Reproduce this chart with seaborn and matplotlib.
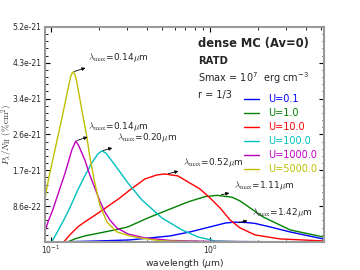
import numpy as np
import pandas as pd
import matplotlib
matplotlib.use("Agg")
import matplotlib.pyplot as plt
from matplotlib.ticker import AutoMinorLocator
import seaborn as sns

# curves: wavelength (um), P/NH in units of 1e-21 %cm^2
labels = ['U=0.1', 'U=1.0', 'U=10.0', 'U=100.0', 'U=1000.0', 'U=5000.0']
colors = ['b', 'g', 'r', 'c', 'm', 'y']

wl_u01 = [0.0986, 0.1522, 0.2033, 0.314, 0.4195, 0.5603, 0.7485, 1.0, 1.25, 1.42, 1.65, 1.919, 2.385, 3.185, 5.137]
p_u01 = [0.0, 0.012, 0.024, 0.048, 0.096, 0.144, 0.24, 0.361, 0.455, 0.475, 0.47, 0.445, 0.361, 0.24, 0.072]

wl_u1 = [0.1279, 0.1415, 0.1636, 0.2033, 0.2527, 0.305, 0.4075, 0.5442, 0.7272, 0.9304, 1.11, 1.375, 1.544, 2.154, 3.185, 5.137]
p_u1 = [0.0, 0.072, 0.144, 0.216, 0.289, 0.361, 0.577, 0.77, 0.962, 1.09, 1.12, 1.075, 0.986, 0.601, 0.289, 0.12]

wl_u10 = [0.1207, 0.1317, 0.1415, 0.1478, 0.1636, 0.2033, 0.235, 0.2716, 0.314, 0.3901, 0.4642, 0.52, 0.6293, 0.7272,
          0.8651, 1.0, 1.156, 1.336, 1.544, 1.919, 2.756, 5.137]
p_u10 = [0.0, 0.168, 0.289, 0.361, 0.481, 0.721, 0.89, 1.058, 1.25, 1.515, 1.611, 1.635, 1.587, 1.443,
         1.274, 1.058, 0.818, 0.529, 0.337, 0.168, 0.072, 0.024]

wl_u100 = [0.1015, 0.1091, 0.119, 0.1317, 0.1478, 0.1636, 0.1811, 0.1975, 0.2093, 0.2218, 0.2527, 0.305, 0.3736,
           0.499, 0.6668, 0.8406, 1.075, 1.544, 5.0]
p_u100 = [0.0, 0.216, 0.481, 0.818, 1.25, 1.587, 1.9, 2.116, 2.188, 2.14, 1.852, 1.419, 1.01,
          0.577, 0.289, 0.12, 0.024, 0.007, 0.0]

wl_u1000 = [0.0917, 0.0971, 0.1029, 0.1139, 0.1225, 0.1279, 0.1356, 0.1436, 0.15, 0.1636, 0.1759, 0.1891, 0.2033,
            0.2186, 0.235, 0.2601, 0.305, 0.3901, 0.5603, 1.0, 5.0]
p_u1000 = [0.24, 0.529, 0.77, 1.274, 1.635, 1.876, 2.212, 2.429, 2.309, 1.972, 1.611, 1.299, 0.986,
           0.721, 0.529, 0.337, 0.192, 0.096, 0.036, 0.012, 0.0]

wl_u5000 = [0.0917, 0.0971, 0.1029, 0.1107, 0.119, 0.1279, 0.1336, 0.1375, 0.1415, 0.1457, 0.1567, 0.1685, 0.1759,
            0.1891, 0.2033, 0.225, 0.2601, 0.314, 0.3628, 0.499, 0.8651, 5.0]
p_u5000 = [1.01, 1.539, 1.972, 2.525, 3.078, 3.655, 3.992, 4.088, 4.04, 3.848, 3.174, 2.525, 2.044,
           1.419, 0.89, 0.481, 0.24, 0.144, 0.096, 0.024, 0.007, 0.0]

# peak labels: (text, peak wl, peak P, text wl, text P)
peak_notes = [
    ('0.14', 0.1375, 4.09, 0.171, 4.43),
    ('0.14', 0.1436, 2.43, 0.171, 2.77),
    ('0.20', 0.2093, 2.19, 0.260, 2.50),
    ('0.52', 0.5365, 1.635, 0.677, 1.90),
    ('1.11', 1.156, 1.13, 1.415, 1.35),
    ('1.42', 1.49, 0.457, 1.837, 0.70),
]

wls = [wl_u01, wl_u1, wl_u10, wl_u100, wl_u1000, wl_u5000]
ps = [p_u01, p_u1, p_u10, p_u100, p_u1000, p_u5000]
frames = []
for lab, w, p in zip(labels, wls, ps):
    frames.append(pd.DataFrame({'wl': w, 'P': np.array(p) * 1e-21, 'U': lab}))
df = pd.concat(frames, ignore_index=True)

sns.set_style('ticks')
fig = plt.figure(figsize=(3.6, 2.7), dpi=100)
ax = fig.add_axes([0.125, 0.104, 0.775, 0.796])

sns.lineplot(data=df, x='wl', y='P', hue='U', palette=dict(zip(labels, colors)),
             estimator=None, sort=False, lw=1.0, ax=ax)

ax.set_xscale('log')
ax.set_xlim(0.092, 5.2)
ymax = 5.17e-21
ax.set_ylim(0, ymax)
yt = np.linspace(0, ymax, 7)
ax.set_yticks(yt)
ax.set_yticklabels([''] + ['%.1e' % v for v in yt[1:]])
ax.yaxis.set_minor_locator(AutoMinorLocator(5))

ax.tick_params(which='both', direction='in', top=True, right=True, labelsize=5.5, color='k')
ax.tick_params(which='major', length=3.5, width=0.8, pad=2.5)
ax.tick_params(which='minor', length=1.8, width=0.6)
ax.tick_params(axis='x', which='major', pad=1.5)
for s in ax.spines.values():
    s.set_color('#999999')
    s.set_linewidth(1.5)

ax.set_xlabel(r'wavelength ($\mu$m)', fontsize=6.6)
ax.xaxis.set_label_coords(0.5, -0.068)
ax.set_ylabel(r'$P_{\lambda}/N_{\rm H}$ $(\%{\rm cm}^2)$', fontsize=6.5, math_fontfamily='cm')
ax.yaxis.set_label_coords(-0.108, 0.5)

for val, xp, yp, xt, ytx in peak_notes:
    ax.annotate(r'$\lambda_{\rm max}$=' + val + r'$\mu$m', xy=(xp, yp * 1e-21), xytext=(xt, ytx * 1e-21),
                fontsize=6.5, math_fontfamily='cm', ha='left', va='center',
                arrowprops=dict(arrowstyle='<|-,head_length=0.3,head_width=0.15', color='k', lw=0.6,
                                shrinkA=1, shrinkB=1))

ax.text(0.548, 0.921, 'dense MC (Av=0)', transform=ax.transAxes, fontsize=8.3, fontweight='bold', va='center')
ax.text(0.548, 0.84, 'RATD', transform=ax.transAxes, fontsize=7.2, fontweight='bold', va='center')
ax.text(0.548, 0.76, r'Smax = $10^7$  erg cm$^{-3}$', transform=ax.transAxes, fontsize=7, va='center')
ax.text(0.548, 0.685, 'r = 1/3', transform=ax.transAxes, fontsize=7, va='center')

handles, labs = ax.get_legend_handles_labels()
ax.legend(handles, labs, loc='upper left', bbox_to_anchor=(0.715, 0.688), frameon=False, fontsize=7,
          labelcolor='linecolor', handlelength=1.5, handletextpad=0.9, labelspacing=0.42,
          borderpad=0, borderaxespad=0)

fig.savefig('out.png', dpi=100)
